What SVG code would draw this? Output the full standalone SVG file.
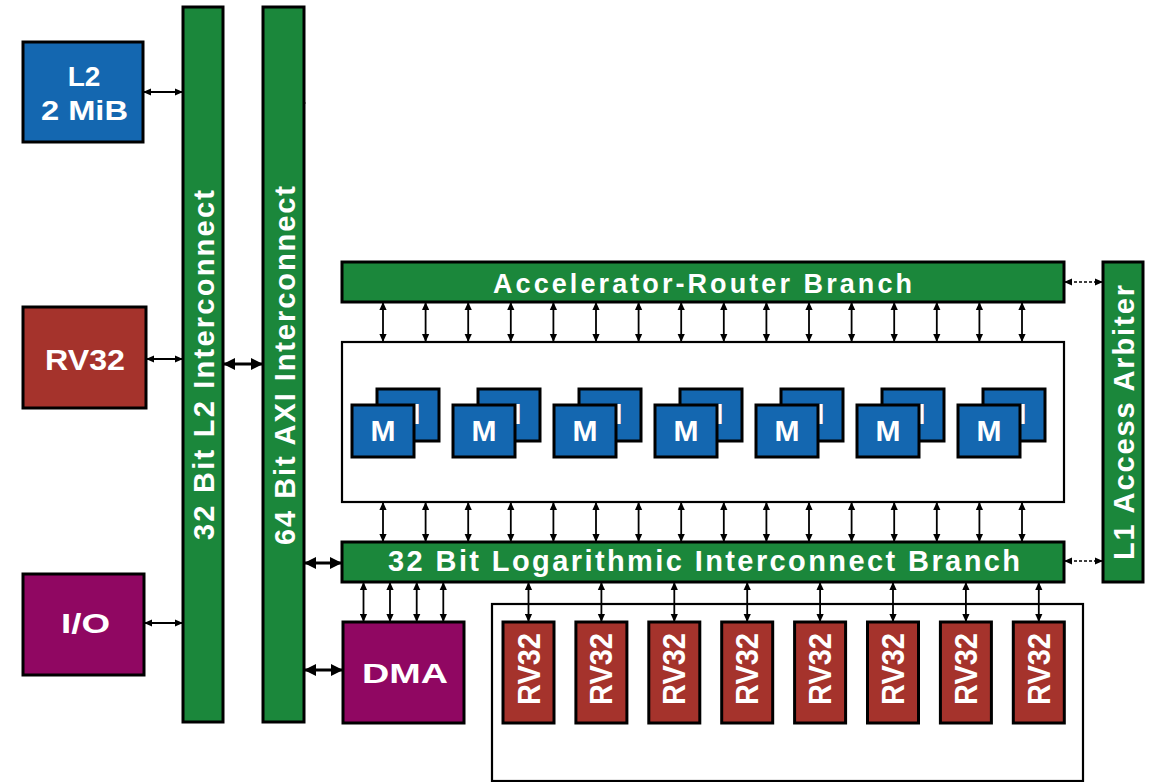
<svg xmlns="http://www.w3.org/2000/svg" width="1156" height="782" viewBox="0 0 1156 782">
<style>
.bar{fill:#1b873b;stroke:#000;stroke-width:3}
.blue{fill:#1467b0;stroke:#000;stroke-width:3}
.red{fill:#a5332c;stroke:#000;stroke-width:3}
.pur{fill:#900762;stroke:#000;stroke-width:3}
.box{fill:#fff;stroke:#000;stroke-width:2.2}
.t{font-family:"Liberation Sans",Arial,sans-serif;font-weight:bold;fill:#fff}
.a{stroke:#000;stroke-width:1.8;fill:none;marker-start:url(#ah);marker-end:url(#ah)}
.ak{stroke:#000;stroke-width:3;fill:none;marker-start:url(#bh);marker-end:url(#bh)}
.ad{stroke:#000;stroke-width:1.6;stroke-dasharray:3,2;fill:none;marker-start:url(#ah);marker-end:url(#ah)}
</style>
<defs>
<marker id="ah" viewBox="0 0 10 10" refX="10" refY="5" markerUnits="userSpaceOnUse" markerWidth="8" markerHeight="8" orient="auto-start-reverse"><path d="M0,0.5 L10,5 L0,9.5 z" fill="#000"/></marker>
<marker id="bh" viewBox="0 0 10 10" refX="10" refY="5" markerUnits="userSpaceOnUse" markerWidth="12" markerHeight="14" orient="auto-start-reverse"><path d="M0,0 L10,5 L0,10 z" fill="#000"/></marker>
</defs>

<g id="core-container"><rect class="box" x="492" y="604" width="591" height="177"/></g>

<g id="connectors">
<line class="a" x1="143" y1="92" x2="183" y2="92"/>
<line class="a" x1="146" y1="359" x2="183" y2="359"/>
<line class="a" x1="144" y1="623" x2="183" y2="623"/>
<line class="ak" x1="223" y1="364" x2="263" y2="364"/>
<line class="ak" x1="304" y1="563" x2="342" y2="563"/>
<line class="ak" x1="304" y1="670" x2="343" y2="670"/>
<path d="M303,101 l3,2 l-3,2 z" fill="#000"/>
<line class="ad" x1="1064" y1="282" x2="1103" y2="282"/>
<line class="ad" x1="1064" y1="561" x2="1103" y2="561"/>
<g id="acc-arrows">
<line class="a" x1="383" y1="302" x2="383" y2="342"/>
<line class="a" x1="425.6" y1="302" x2="425.6" y2="342"/>
<line class="a" x1="468.2" y1="302" x2="468.2" y2="342"/>
<line class="a" x1="510.8" y1="302" x2="510.8" y2="342"/>
<line class="a" x1="553.4" y1="302" x2="553.4" y2="342"/>
<line class="a" x1="596" y1="302" x2="596" y2="342"/>
<line class="a" x1="638.6" y1="302" x2="638.6" y2="342"/>
<line class="a" x1="681.2" y1="302" x2="681.2" y2="342"/>
<line class="a" x1="723.8" y1="302" x2="723.8" y2="342"/>
<line class="a" x1="766.4" y1="302" x2="766.4" y2="342"/>
<line class="a" x1="809" y1="302" x2="809" y2="342"/>
<line class="a" x1="851.6" y1="302" x2="851.6" y2="342"/>
<line class="a" x1="894.2" y1="302" x2="894.2" y2="342"/>
<line class="a" x1="936.8" y1="302" x2="936.8" y2="342"/>
<line class="a" x1="979.4" y1="302" x2="979.4" y2="342"/>
<line class="a" x1="1022" y1="302" x2="1022" y2="342"/>
</g>
<g id="log-arrows">
<line class="a" x1="383" y1="502" x2="383" y2="542"/>
<line class="a" x1="425.6" y1="502" x2="425.6" y2="542"/>
<line class="a" x1="468.2" y1="502" x2="468.2" y2="542"/>
<line class="a" x1="510.8" y1="502" x2="510.8" y2="542"/>
<line class="a" x1="553.4" y1="502" x2="553.4" y2="542"/>
<line class="a" x1="596" y1="502" x2="596" y2="542"/>
<line class="a" x1="638.6" y1="502" x2="638.6" y2="542"/>
<line class="a" x1="681.2" y1="502" x2="681.2" y2="542"/>
<line class="a" x1="723.8" y1="502" x2="723.8" y2="542"/>
<line class="a" x1="766.4" y1="502" x2="766.4" y2="542"/>
<line class="a" x1="809" y1="502" x2="809" y2="542"/>
<line class="a" x1="851.6" y1="502" x2="851.6" y2="542"/>
<line class="a" x1="894.2" y1="502" x2="894.2" y2="542"/>
<line class="a" x1="936.8" y1="502" x2="936.8" y2="542"/>
<line class="a" x1="979.4" y1="502" x2="979.4" y2="542"/>
<line class="a" x1="1022" y1="502" x2="1022" y2="542"/>
</g>
<g id="dma-arrows">
<line class="a" x1="363.5" y1="582" x2="363.5" y2="622"/>
<line class="a" x1="390" y1="582" x2="390" y2="622"/>
<line class="a" x1="416.7" y1="582" x2="416.7" y2="622"/>
<line class="a" x1="443.3" y1="582" x2="443.3" y2="622"/>
</g>
<g id="core-arrows">
<line class="a" x1="528.5" y1="582" x2="528.5" y2="622"/>
<line class="a" x1="601.4" y1="582" x2="601.4" y2="622"/>
<line class="a" x1="674.3" y1="582" x2="674.3" y2="622"/>
<line class="a" x1="747.2" y1="582" x2="747.2" y2="622"/>
<line class="a" x1="820.1" y1="582" x2="820.1" y2="622"/>
<line class="a" x1="893" y1="582" x2="893" y2="622"/>
<line class="a" x1="965.9" y1="582" x2="965.9" y2="622"/>
<line class="a" x1="1038.8" y1="582" x2="1038.8" y2="622"/>
</g>
</g>

<g id="l2mem"><rect class="blue" x="23" y="42" width="120" height="100"/>
<text class="t" x="84" y="86" font-size="28" text-anchor="middle">L2</text>
<text class="t" x="84.5" y="120" font-size="28" text-anchor="middle" textLength="87" lengthAdjust="spacingAndGlyphs">2 MiB</text></g>

<g id="rv32-host"><rect class="red" x="23" y="307" width="123" height="101"/>
<text class="t" x="85" y="370" font-size="30" text-anchor="middle" textLength="80" lengthAdjust="spacingAndGlyphs">RV32</text></g>

<g id="io"><rect class="pur" x="23" y="574" width="121" height="101"/>
<text class="t" x="85.5" y="633" font-size="28" text-anchor="middle" textLength="49" lengthAdjust="spacingAndGlyphs">I/O</text></g>

<g id="l2-interconnect"><rect class="bar" x="183" y="7" width="40" height="715"/>
<text class="t" transform="translate(203,365) rotate(-90)" x="0" y="10.5" font-size="29" text-anchor="middle" textLength="350" lengthAdjust="spacing">32 Bit L2 Interconnect</text></g>

<g id="axi-interconnect"><rect class="bar" x="263" y="7" width="41" height="715"/>
<text class="t" transform="translate(284,365.5) rotate(-90)" x="0" y="10.5" font-size="29" text-anchor="middle" textLength="359" lengthAdjust="spacing">64 Bit AXI Interconnect</text></g>

<g id="acc-router"><rect class="bar" x="342" y="262" width="722" height="40"/>
<text class="t" x="702.5" y="293" font-size="27" text-anchor="middle" textLength="419" lengthAdjust="spacing">Accelerator-Router Branch</text></g>

<g id="accelerators"><rect class="box" x="342" y="342" width="722" height="160"/>
<g id="m0"><rect class="blue" x="377" y="389" width="62" height="52"/><text class="t" x="408" y="424" font-size="30" text-anchor="middle">M</text><rect class="blue" x="352" y="405" width="62" height="52"/><text class="t" x="383" y="441" font-size="30" text-anchor="middle">M</text></g>
<g id="m1"><rect class="blue" x="478" y="389" width="62" height="52"/><text class="t" x="509" y="424" font-size="30" text-anchor="middle">M</text><rect class="blue" x="453" y="405" width="62" height="52"/><text class="t" x="484" y="441" font-size="30" text-anchor="middle">M</text></g>
<g id="m2"><rect class="blue" x="579" y="389" width="62" height="52"/><text class="t" x="610" y="424" font-size="30" text-anchor="middle">M</text><rect class="blue" x="554" y="405" width="62" height="52"/><text class="t" x="585" y="441" font-size="30" text-anchor="middle">M</text></g>
<g id="m3"><rect class="blue" x="680" y="389" width="62" height="52"/><text class="t" x="711" y="424" font-size="30" text-anchor="middle">M</text><rect class="blue" x="655" y="405" width="62" height="52"/><text class="t" x="686" y="441" font-size="30" text-anchor="middle">M</text></g>
<g id="m4"><rect class="blue" x="781" y="389" width="62" height="52"/><text class="t" x="812" y="424" font-size="30" text-anchor="middle">M</text><rect class="blue" x="756" y="405" width="62" height="52"/><text class="t" x="787" y="441" font-size="30" text-anchor="middle">M</text></g>
<g id="m5"><rect class="blue" x="882" y="389" width="62" height="52"/><text class="t" x="913" y="424" font-size="30" text-anchor="middle">M</text><rect class="blue" x="857" y="405" width="62" height="52"/><text class="t" x="888" y="441" font-size="30" text-anchor="middle">M</text></g>
<g id="m6"><rect class="blue" x="983" y="389" width="62" height="52"/><text class="t" x="1014" y="424" font-size="30" text-anchor="middle">M</text><rect class="blue" x="958" y="405" width="62" height="52"/><text class="t" x="989" y="441" font-size="30" text-anchor="middle">M</text></g>
</g>

<g id="log-interconnect"><rect class="bar" x="342" y="542" width="722" height="40"/>
<text class="t" x="704" y="571" font-size="29" text-anchor="middle" textLength="632" lengthAdjust="spacing">32 Bit Logarithmic Interconnect Branch</text></g>

<g id="l1-arbiter"><rect class="bar" x="1103" y="262" width="40" height="320"/>
<text class="t" transform="translate(1123,422.5) rotate(-90)" x="0" y="10.5" font-size="29" text-anchor="middle" textLength="275" lengthAdjust="spacing">L1 Access Arbiter</text></g>

<g id="dma"><rect class="pur" x="343" y="622" width="121" height="101"/>
<text class="t" x="405" y="683" font-size="28" text-anchor="middle" textLength="86" lengthAdjust="spacingAndGlyphs">DMA</text></g>

<g id="cores">
<g id="c0"><rect class="red" x="503" y="622" width="51" height="101"/><text class="t" transform="translate(528.5,669) rotate(-90)" y="11" font-size="31" text-anchor="middle" textLength="72" lengthAdjust="spacingAndGlyphs">RV32</text></g>
<g id="c1"><rect class="red" x="575.9" y="622" width="51" height="101"/><text class="t" transform="translate(601.4,669) rotate(-90)" y="11" font-size="31" text-anchor="middle" textLength="72" lengthAdjust="spacingAndGlyphs">RV32</text></g>
<g id="c2"><rect class="red" x="648.8" y="622" width="51" height="101"/><text class="t" transform="translate(674.3,669) rotate(-90)" y="11" font-size="31" text-anchor="middle" textLength="72" lengthAdjust="spacingAndGlyphs">RV32</text></g>
<g id="c3"><rect class="red" x="721.7" y="622" width="51" height="101"/><text class="t" transform="translate(747.2,669) rotate(-90)" y="11" font-size="31" text-anchor="middle" textLength="72" lengthAdjust="spacingAndGlyphs">RV32</text></g>
<g id="c4"><rect class="red" x="794.6" y="622" width="51" height="101"/><text class="t" transform="translate(820.1,669) rotate(-90)" y="11" font-size="31" text-anchor="middle" textLength="72" lengthAdjust="spacingAndGlyphs">RV32</text></g>
<g id="c5"><rect class="red" x="867.5" y="622" width="51" height="101"/><text class="t" transform="translate(893,669) rotate(-90)" y="11" font-size="31" text-anchor="middle" textLength="72" lengthAdjust="spacingAndGlyphs">RV32</text></g>
<g id="c6"><rect class="red" x="940.4" y="622" width="51" height="101"/><text class="t" transform="translate(965.9,669) rotate(-90)" y="11" font-size="31" text-anchor="middle" textLength="72" lengthAdjust="spacingAndGlyphs">RV32</text></g>
<g id="c7"><rect class="red" x="1013.3" y="622" width="51" height="101"/><text class="t" transform="translate(1038.8,669) rotate(-90)" y="11" font-size="31" text-anchor="middle" textLength="72" lengthAdjust="spacingAndGlyphs">RV32</text></g>
</g>
</svg>
